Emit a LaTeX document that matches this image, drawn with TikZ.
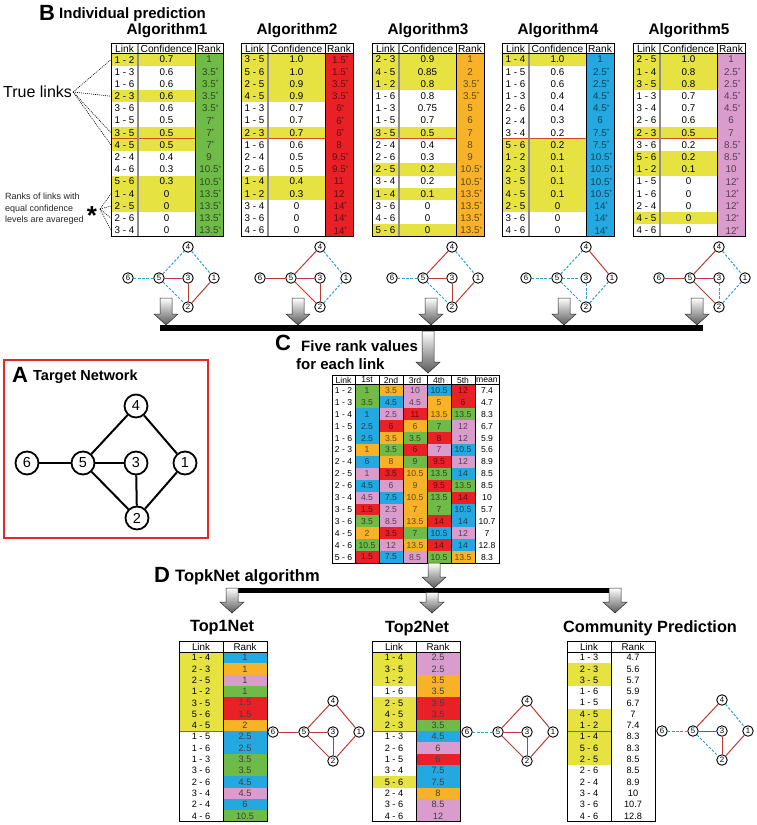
\documentclass[tikz,border=0pt]{standalone}
\usepackage{fontspec}
\setmainfont{Liberation Sans}
\newcommand\fsz[1]{\fontsize{#1}{#1}\selectfont}
\newcommand\astk{\rlap{\raisebox{2.8pt}{\fsz{6.5}*}}}
\definecolor{cy}{RGB}{229,226,66}
\definecolor{cg}{RGB}{112,186,72}
\definecolor{cr}{RGB}{233,33,39}
\definecolor{co}{RGB}{247,178,40}
\definecolor{cb}{RGB}{35,168,224}
\definecolor{cp}{RGB}{218,155,205}
\definecolor{er}{RGB}{192,58,52}
\definecolor{eb}{RGB}{45,160,205}
\definecolor{sepc}{RGB}{205,75,35}
\definecolor{abox}{RGB}{226,42,36}
\tikzset{
 cell/.style={inner sep=0pt, font=\fsz{9.8}},
 hdr/.style={inner sep=0pt, font=\fsz{10.2}},
 ccell/.style={inner sep=0pt, font=\fsz{8.6}},
 bcell/.style={inner sep=0pt, font=\fsz{9.2}},
 bhdr/.style={inner sep=0pt, font=\fsz{9.8}},
 sepline/.style={draw=sepc, line width=1pt},
 ttl/.style={inner sep=0pt, font=\bfseries\fsz{15.3}},
 bttl/.style={inner sep=0pt, font=\bfseries\fsz{16.3}},
 bigl/.style={inner sep=0pt, font=\bfseries\fsz{22}},
 nd/.style={circle, draw, line width=0.9pt, fill=white, inner sep=0pt, minimum size=10.5pt, font=\fsz{7.8}},
 And/.style={circle, draw, line width=1.8pt, fill=white, inner sep=0pt, minimum size=23pt, font=\fsz{14.5}},
 prd/.style={draw=er, line width=1pt},
 mis/.style={draw=eb, line width=1pt, dash pattern=on 2.6pt off 1.6pt},
 dotl/.style={line width=0.6pt, dash pattern=on 1pt off 1pt},
}
\newcommand\blockarrow[3]{%
 \shade[top color=white, bottom color=black!65, draw=black!85, line width=0.5pt]
  ({#1-6},#2) -- ({#1+6},#2) -- ({#1+6},{#3-11}) -- ({#1+12},{#3-11}) -- (#1,#3)
  -- ({#1-12},{#3-11}) -- ({#1-6},{#3-11}) -- cycle;}
\newcommand\smallnet[4]{%
 \node[nd] (#1-3) at (#2,#3) {3};
 \node[nd] (#1-6) at ({#2-60},#3) {6};
 \node[nd] (#1-5) at ({#2-29},#3) {5};
 \node[nd] (#1-1) at ({#2+26},#3) {1};
 \node[nd] (#1-4) at (#2,{#3-31}) {4};
 \node[nd] (#1-2) at (#2,{#3+29}) {2};
 \foreach \ea/\eb/\es in {#4}{\edef\tmp{\noexpand\draw[\es] (#1-\ea) -- (#1-\eb);}\tmp}%
}
\newcommand\algtab[5]{%
\begin{scope}[shift={(#2,43)}]
 \node[ttl] (#1-t) at (56,-12) {#4};
 \fill[#3] (84,10.5) rectangle (112,193.5);
 \foreach \lk/\cf/\rk/\yy [count=\i] in {#5}{
  \pgfmathsetmacro\ya{10.5+(\i-1)*12.2}
  \pgfmathsetmacro\yb{10.5+\i*12.2}
  \pgfmathsetmacro\yc{10.5+(\i-0.5)*12.2}
  \ifnum\yy=1 \fill[cy] (0,\ya) rectangle (84,\yb);\fi
  \node[cell] (#1-l\i) at (13.5,\yc) {\lk};
  \node[cell] (#1-c\i) at (55.5,\yc) {\cf};
  \node[cell, text=#3!40!black] (#1-r\i) at (98,\yc) {\rk};
  \coordinate (#1-e\i) at (0,\yc);
 }
 \node[hdr] (#1-h1) at (13.5,5.6) {Link};
 \node[hdr] (#1-h2) at (55.5,5.6) {Confidence};
 \node[hdr] (#1-h3) at (98,5.6) {Rank};
 \draw[sepline] (0,{10.5+7*12.2}) -- (84,{10.5+7*12.2});
 \draw[black!45, line width=1.4pt] (27,0) -- (27,193.5);
 \draw[line width=0.5pt] (84,0) -- (84,193.5) (0,10.5) -- (112,10.5);
 \draw[line width=0.6pt] (0,0) rectangle (112,193.5);
\end{scope}}
\newcommand\bottab[4]{%
\begin{scope}[shift={(#2,641)}]
 \foreach \lk/\kk/\vv/\yy [count=\i] in {#4}{
  \pgfmathsetmacro\ya{11+(\i-1)*11.3}
  \pgfmathsetmacro\yb{11+\i*11.3}
  \pgfmathsetmacro\yc{11+(\i-0.5)*11.3}
  \ifnum\yy=1 \fill[cy] (0,\ya) rectangle (44,\yb);\fi
  \fill[fill=\kk] (44,\ya) rectangle (88,\yb);
  \node[bcell] (#1-l\i) at (22,\yc) {\lk};
  \node[bcell, text=#3] (#1-r\i) at (66,\yc) {\vv};
 }
 \node[bhdr] (#1-h1) at (22,5.5) {Link};
 \node[bhdr] (#1-h2) at (66,5.5) {Rank};
 \draw[sepline] (0,{11+7*11.3}) -- (44,{11+7*11.3});
 \draw[line width=0.5pt] (44,0) -- (44,180.5) (0,11) -- (88,11);
 \draw[line width=0.6pt] (0,0) rectangle (88,180.5);
\end{scope}}
\begin{document}
\begin{tikzpicture}[x=1pt,y=-1pt]
\useasboundingbox (0,0) rectangle (757,825);
\fill[white] (0,0) rectangle (757,825);

% ---------- B ----------
\node[bigl] (labB) at (47,13) {B};
\node[inner sep=0pt, font=\bfseries\fsz{15}, anchor=west] (labBt) at (59,15) {Individual prediction};

\algtab{a1}{111}{cg}{Algorithm1}{1 - 2/0.7/1/1,1 - 3/0.6/3.5\astk/0,1 - 6/0.6/3.5\astk/0,2 - 3/0.6/3.5\astk/1,3 - 6/0.6/3.5\astk/0,1 - 5/0.5/7\astk/0,3 - 5/0.5/7\astk/1,4 - 5/0.5/7\astk/1,2 - 4/0.4/9/0,4 - 6/0.3/10.5\astk/0,5 - 6/0.3/10.5\astk/1,1 - 4/0/13.5\astk/1,2 - 5/0/13.5\astk/1,2 - 6/0/13.5\astk/0,3 - 4/0/13.5\astk/0}
\algtab{a2}{241}{cr}{Algorithm2}{3 - 5/1.0/1.5\astk/1,5 - 6/1.0/1.5\astk/1,2 - 5/0.9/3.5\astk/1,4 - 5/0.9/3.5\astk/1,1 - 3/0.7/6\astk/0,1 - 5/0.7/6\astk/0,2 - 3/0.7/6\astk/1,1 - 6/0.6/8/0,2 - 4/0.5/9.5\astk/0,2 - 6/0.5/9.5\astk/0,1 - 4/0.4/11/1,1 - 2/0.3/12/1,3 - 4/0/14\astk/0,3 - 6/0/14\astk/0,4 - 6/0/14\astk/0}
\algtab{a3}{372}{co}{Algorithm3}{2 - 3/0.9/1/1,4 - 5/0.85/2/1,1 - 2/0.8/3.5\astk/1,1 - 6/0.8/3.5\astk/0,1 - 3/0.75/5/0,1 - 5/0.7/6/0,3 - 5/0.5/7/1,2 - 4/0.4/8/0,2 - 6/0.3/9/0,2 - 5/0.2/10.5\astk/1,3 - 4/0.2/10.5\astk/0,1 - 4/0.1/13.5\astk/1,3 - 6/0/13.5\astk/0,4 - 6/0/13.5\astk/0,5 - 6/0/13.5\astk/1}
\algtab{a4}{502}{cb}{Algorithm4}{1 - 4/1.0/1/1,1 - 5/0.6/2.5\astk/0,1 - 6/0.6/2.5\astk/0,1 - 3/0.4/4.5\astk/0,2 - 6/0.4/4.5\astk/0,2 - 4/0.3/6/0,3 - 4/0.2/7.5\astk/0,5 - 6/0.2/7.5\astk/1,1 - 2/0.1/10.5\astk/1,2 - 3/0.1/10.5\astk/1,3 - 5/0.1/10.5\astk/1,4 - 5/0.1/10.5\astk/1,2 - 5/0/14\astk/1,3 - 6/0/14\astk/0,4 - 6/0/14\astk/0}
\algtab{a5}{633}{cp}{Algorithm5}{2 - 5/1.0/1/1,1 - 4/0.8/2.5\astk/1,3 - 5/0.8/2.5\astk/1,1 - 3/0.7/4.5\astk/0,3 - 4/0.7/4.5\astk/0,2 - 6/0.6/6/0,2 - 3/0.5/7/1,3 - 6/0.2/8.5\astk/0,5 - 6/0.2/8.5\astk/1,1 - 2/0.1/10/1,1 - 5/0/12\astk/0,1 - 6/0/12\astk/0,2 - 4/0/12\astk/0,4 - 5/0/12\astk/1,4 - 6/0/12\astk/0}

% annotations
\node[inner sep=1pt, font=\fsz{16}, anchor=west] (truel) at (2,92) {True links};
\foreach \r in {1,4,7,8}{\draw[dotl] (truel.east) -- (a1-e\r);}
\node[inner sep=0pt, font=\fontsize{9}{11.6}\selectfont, anchor=west, align=left, text=black!85] (rkn) at (5,209) {Ranks of links with\\equal confidence\\levels are avareged};
\node[inner sep=0pt, font=\bfseries\fsz{26}] (astn) at (92,216) {*};
\coordinate (astc) at (100,209);
\foreach \r in {12,13,14,15}{\draw[dotl] (astc) -- (a1-e\r);}

% small networks
\smallnet{n1}{188}{278}{6/5/mis,5/4/mis,5/3/prd,5/2/mis,3/2/prd,4/1/mis,2/1/prd}
\smallnet{n2}{320}{278}{6/5/prd,5/4/prd,5/3/prd,5/2/prd,3/2/prd,4/1/mis,2/1/mis}
\smallnet{n3}{452}{278}{6/5/mis,5/4/prd,5/3/prd,5/2/mis,3/2/prd,4/1/mis,2/1/prd}
\smallnet{n4}{586}{278}{6/5/mis,5/4/mis,5/3/mis,5/2/mis,3/2/mis,4/1/prd,2/1/mis}
\smallnet{n5}{719}{278}{6/5/prd,5/4/prd,5/3/prd,5/2/prd,3/2/mis,4/1/mis,2/1/mis}

% arrows and bar
\foreach \xx in {166,298,431,564,697}{\blockarrow{\xx}{298}{325}}
\draw[line width=6pt] (160,328) -- (703,328);
\blockarrow{428}{331}{373}

% ---------- C ----------
\node[bigl] (labC) at (283,343) {C};
\node[inner sep=0pt, font=\bfseries\fsz{15}, anchor=west] (labC1) at (301,346) {Five rank values};
\node[inner sep=0pt, font=\bfseries\fsz{15}, anchor=west] (labC2) at (296,364) {for each link};

\begin{scope}[shift={(332,375)}]
\foreach \lk/\ka/\va/\kb/\vb/\kc/\vc/\kd/\vd/\ke/\ve/\mm [count=\i] in {
1 - 2/cg/1/co/3.5/cp/10/cb/10.5/cr/12/7.4,
1 - 3/cg/3.5/cb/4.5/cp/4.5/co/5/cr/6/4.7,
1 - 4/cb/1/cp/2.5/cr/11/co/13.5/cg/13.5/8.3,
1 - 5/cb/2.5/cr/6/co/6/cg/7/cp/12/6.7,
1 - 6/cb/2.5/co/3.5/cg/3.5/cr/8/cp/12/5.9,
2 - 3/co/1/cg/3.5/cr/6/cp/7/cb/10.5/5.6,
2 - 4/cb/6/co/8/cg/9/cr/9.5/cp/12/8.9,
2 - 5/cp/1/cr/3.5/co/10.5/cg/13.5/cb/14/8.5,
2 - 6/cb/4.5/cp/6/co/9/cr/9.5/cg/13.5/8.5,
3 - 4/cp/4.5/cb/7.5/co/10.5/cg/13.5/cr/14/10,
3 - 5/cr/1.5/cp/2.5/co/7/cg/7/cb/10.5/5.7,
3 - 6/cg/3.5/cp/8.5/co/13.5/cr/14/cb/14/10.7,
4 - 5/co/2/cr/3.5/cg/7/cb/10.5/cp/12/7,
4 - 6/cg/10.5/cp/12/co/13.5/cr/14/cb/14/12.8,
5 - 6/cr/1.5/cb/7.5/cp/8.5/cg/10.5/co/13.5/8.3}{
 \pgfmathsetmacro\ya{9.5+(\i-1)*11.9}
 \pgfmathsetmacro\yb{9.5+\i*11.9}
 \pgfmathsetmacro\yc{9.5+(\i-0.5)*11.9}
 \fill[fill=\ka] (23,\ya) rectangle (47,\yb);
 \fill[fill=\kb] (47,\ya) rectangle (71,\yb);
 \fill[fill=\kc] (71,\ya) rectangle (95,\yb);
 \fill[fill=\kd] (95,\ya) rectangle (119,\yb);
 \fill[fill=\ke] (119,\ya) rectangle (143,\yb);
 \node[ccell] (c-l\i) at (11.5,\yc) {\lk};
 \node[ccell, text=\ka!40!black] (c-a\i) at (35,\yc) {\va};
 \node[ccell, text=\kb!40!black] (c-b\i) at (59,\yc) {\vb};
 \node[ccell, text=\kc!40!black] (c-c\i) at (83,\yc) {\vc};
 \node[ccell, text=\kd!40!black] (c-d\i) at (107,\yc) {\vd};
 \node[ccell, text=\ke!40!black] (c-e\i) at (131,\yc) {\ve};
 \node[ccell] (c-m\i) at (155,\yc) {\mm};
}
\node[ccell] (c-h0) at (11.5,5) {Link};
\node[ccell] (c-h1) at (35,5) {1st};
\node[ccell] (c-h2) at (59,5) {2nd};
\node[ccell] (c-h3) at (83,5) {3rd};
\node[ccell] (c-h4) at (107,5) {4th};
\node[ccell] (c-h5) at (131,5) {5th};
\node[ccell] (c-h6) at (155,5) {mean};
\foreach \xx in {23,47,71,95,119,143}{\draw[line width=0.5pt] (\xx,0) -- (\xx,188);}
\draw[line width=0.5pt] (0,9.5) -- (167,9.5);
\draw[line width=0.6pt] (0,0) rectangle (167,188);
\end{scope}

% ---------- A ----------
\draw[abox, line width=2.5pt] (4,360) rectangle (208,538);
\node[bigl] (labA) at (20,375) {A};
\node[inner sep=0pt, font=\bfseries\fsz{14.5}, anchor=west] (labAt) at (33,377) {Target Network};
\node[And] (A4) at (136,406) {4};
\node[And] (A6) at (27,463) {6};
\node[And] (A5) at (83,463) {5};
\node[And] (A3) at (136,463) {3};
\node[And] (A1) at (185,463) {1};
\node[And] (A2) at (137,518) {2};
\foreach \p/\q in {6/5,5/3,5/4,5/2,3/2,4/1,2/1}{\draw[line width=2pt] (A\p) -- (A\q);}

% ---------- D ----------
\blockarrow{434}{563}{588}
\node[bigl] (labD) at (162,575) {D};
\node[inner sep=0pt, font=\bfseries\fsz{16.5}, anchor=west] (labDt) at (175,577) {TopkNet algorithm};
\draw[line width=5pt] (226,590) -- (621,590);
\blockarrow{232}{588}{613}
\blockarrow{432}{592.5}{613}
\blockarrow{615}{588}{613}

\node[bttl] (t1t) at (222,628) {Top1Net};
\node[bttl] (t2t) at (417,628) {Top2Net};
\node[bttl] (cpt) at (650,628) {Community Prediction};

\bottab{t1}{179}{black!75}{1 - 4/cb/1/1,2 - 3/co/1/1,2 - 5/cp/1/1,1 - 2/cg/1/1,3 - 5/cr/1.5/1,5 - 6/cr/1.5/1,4 - 5/co/2/1,1 - 5/cb/2.5/0,1 - 6/cb/2.5/0,1 - 3/cg/3.5/0,3 - 6/cg/3.5/0,2 - 6/cb/4.5/0,3 - 4/cp/4.5/0,2 - 4/cb/6/0,4 - 6/cg/10.5/0}
\bottab{t2}{372}{black!75}{1 - 4/cp/2.5/1,3 - 5/cp/2.5/1,1 - 2/co/3.5/1,1 - 6/co/3.5/0,2 - 5/cr/3.5/1,4 - 5/cr/3.5/1,2 - 3/cg/3.5/1,1 - 3/cb/4.5/0,2 - 6/cp/6/0,1 - 5/cr/6/0,3 - 4/cb/7.5/0,5 - 6/cb/7.5/1,2 - 4/co/8/0,3 - 6/cp/8.5/0,4 - 6/cp/12/0}
\bottab{cm}{567}{black}{1 - 3/white/4.7/0,2 - 3/white/5.6/1,3 - 5/white/5.7/1,1 - 6/white/5.9/0,1 - 5/white/6.7/0,4 - 5/white/7/1,1 - 2/white/7.4/1,1 - 4/white/8.3/1,5 - 6/white/8.3/1,2 - 5/white/8.5/1,2 - 6/white/8.5/0,2 - 4/white/8.9/0,3 - 4/white/10/0,3 - 6/white/10.7/0,4 - 6/white/12.8/0}

\smallnet{b1}{333}{732}{6/5/prd,5/4/prd,5/3/prd,5/2/prd,3/2/prd,4/1/prd,2/1/prd}
\smallnet{b2}{527}{732}{6/5/mis,5/4/prd,5/3/prd,5/2/prd,3/2/prd,4/1/prd,2/1/prd}
\smallnet{b3}{722}{731}{6/5/mis,5/4/prd,5/3/prd,5/2/mis,3/2/prd,4/1/mis,2/1/prd}
\end{tikzpicture}
\end{document}
